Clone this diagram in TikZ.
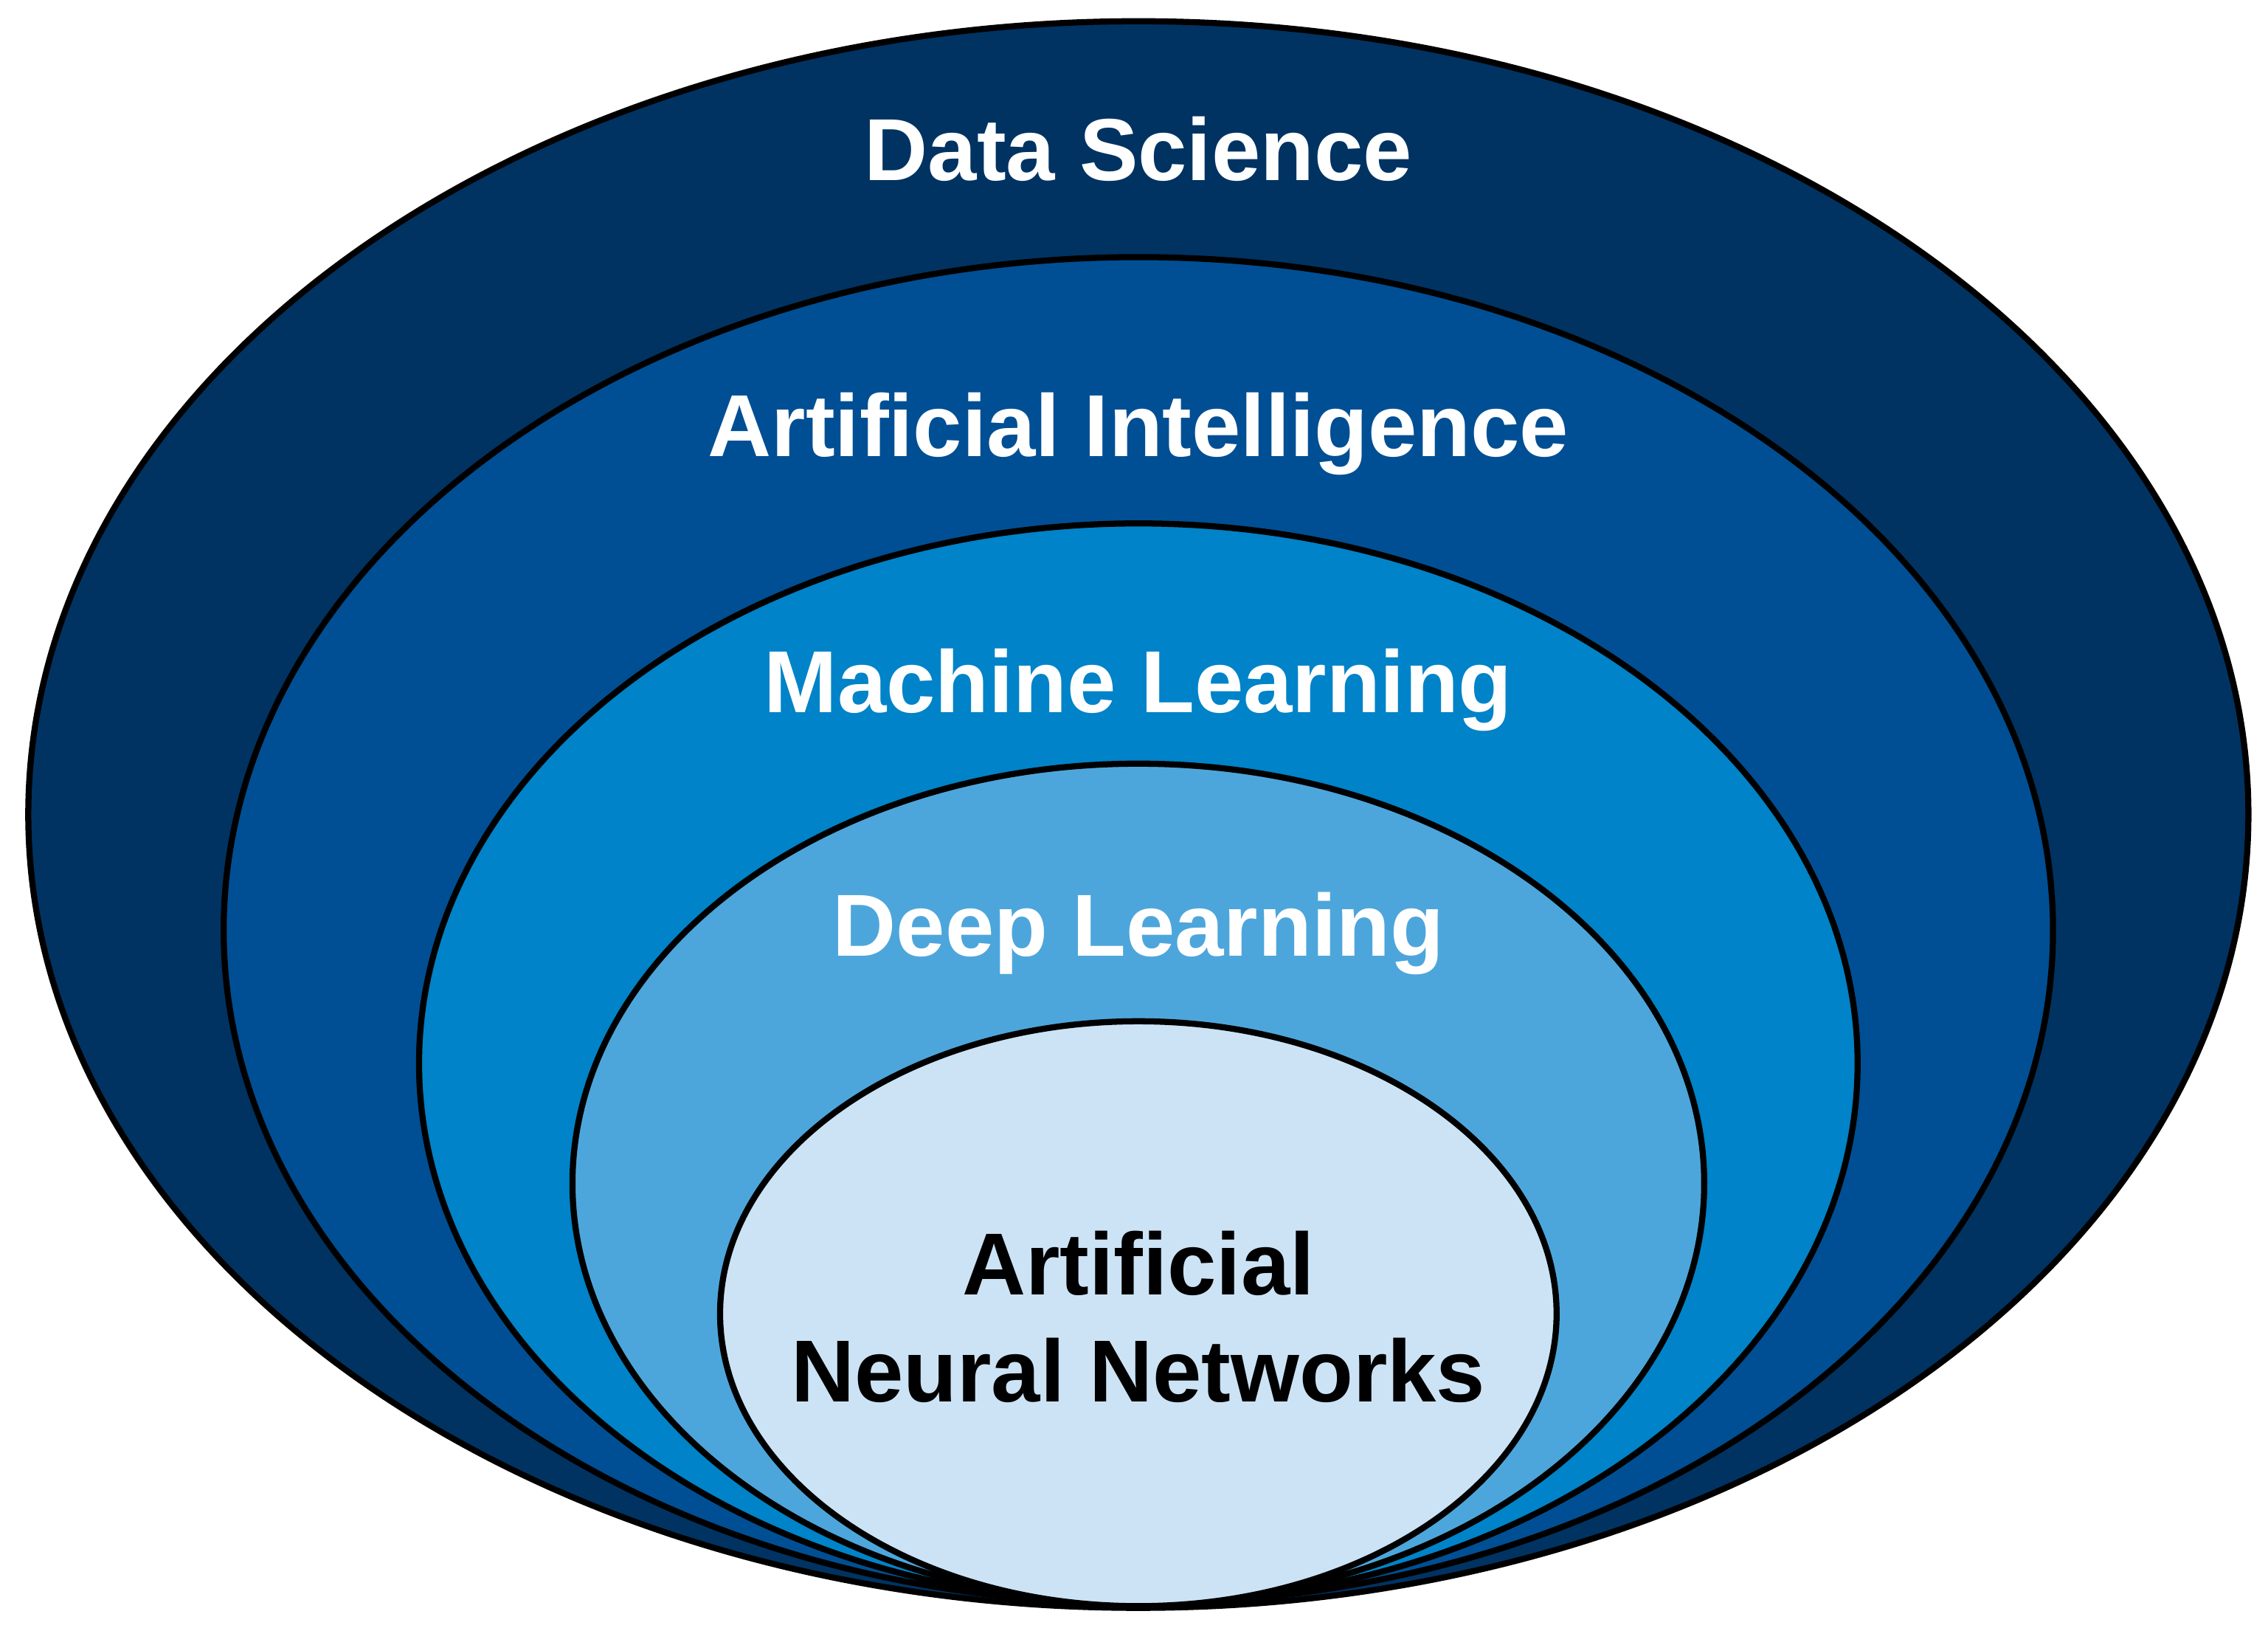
\documentclass[tikz,border=0pt]{standalone}
\usepackage{fontspec}
\setmainfont{Liberation Sans}
\usetikzlibrary{shapes.geometric}

\definecolor{dsblue}{RGB}{0,51,98}
\definecolor{aiblue}{RGB}{0,79,148}
\definecolor{mlblue}{RGB}{0,131,200}
\definecolor{dlblue}{RGB}{77,166,219}
\definecolor{annblue}{RGB}{204,227,245}

\begin{document}
\begin{tikzpicture}[x=0.01cm, y=-0.01cm]

\tikzset{field/.style={draw=black, line width=1.2pt, ellipse, inner sep=0pt}}
\tikzset{label/.style={font=\fontsize{17.3}{21}\selectfont\bfseries, text=white, align=center}}

\useasboundingbox (0,0) rectangle (1568,1137);

\node [field, fill=dsblue, minimum width=15.34cm, minimum height=10.96cm] (ds) at (787,563) {};
\node [field, fill=aiblue, minimum width=12.64cm, minimum height=9.30cm] (ai) at (787,643) {};
\node [field, fill=mlblue, minimum width=9.94cm, minimum height=7.46cm] (ml) at (787,735) {};
\node [field, fill=dlblue, minimum width=7.82cm, minimum height=5.80cm] (dl) at (787,818) {};
\node [field, fill=annblue, minimum width=5.78cm, minimum height=4.04cm] (ann) at (787,908) {};

\node [label] (ds-text) at (787,103) {Data Science};
\node [label] (ai-text) at (787,300) {Artificial Intelligence};
\node [label] (ml-text) at (787,477) {Machine Learning};
\node [label] (dl-text) at (787,645) {Deep Learning};
\node [label, text=black] (ann-text) at (787,910) {Artificial\\Neural Networks};

\end{tikzpicture}
\end{document}
